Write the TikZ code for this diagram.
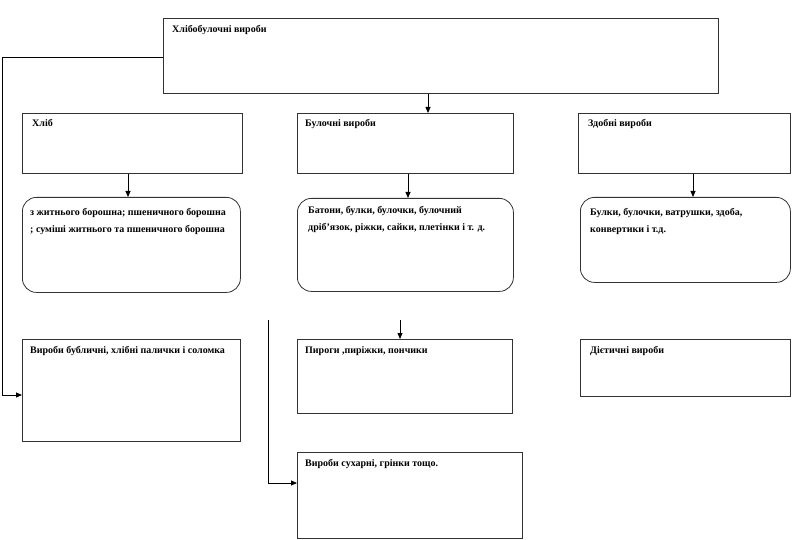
\documentclass[tikz,border=0pt]{standalone}
\usepackage{fontspec}
\setmainfont{Liberation Serif}
\usetikzlibrary{arrows.meta}
\begin{document}
\begin{tikzpicture}[x=1pt,y=-1pt,
  box/.style={draw=black!80,line width=0.8pt,inner sep=0pt,anchor=north west},
  rbox/.style={draw=black!80,line width=0.8pt,rounded corners=14pt,inner sep=0pt,anchor=north west},
  lbl/.style={anchor=north west,inner sep=0pt,font=\bfseries\fontsize{10}{17}\selectfont,align=left},
  conn/.style={draw=black,line width=0.8pt,-{Triangle[length=6pt,width=5pt]}}]
\useasboundingbox (0,0) rectangle (800,540);
% top box
\node[box,minimum width=555pt,minimum height=75pt] (A) at (163,18) {};
\node[lbl] (tA) at (172,25) {Хлібобулочні вироби};
% second row
\node[box,minimum width=220pt,minimum height=60pt] (B1) at (22,113) {};
\node[box,minimum width=216pt,minimum height=60pt] (B2) at (297,113) {};
\node[box,minimum width=212pt,minimum height=60pt] (B3) at (578,113) {};
\node[lbl] (tB1) at (32,119) {Хліб};
\node[lbl] (tB2) at (305,119) {Булочні вироби};
\node[lbl] (tB3) at (588,119) {Здобні вироби};
% rounded boxes
\node[rbox,minimum width=218pt,minimum height=95pt] (C1) at (22,197) {};
\node[rbox,minimum width=216pt,minimum height=93pt] (C2) at (297,198) {};
\node[rbox,minimum width=210pt,minimum height=85pt] (C3) at (580,197) {};
\node[lbl] (tC1) at (30,208) {з житнього борошна; пшеничного борошна\\; суміші житнього та пшеничного борошна};
\node[lbl] (tC2) at (308,206) {Батони, булки, булочки, булочний\\дріб’язок, ріжки, сайки, плетінки і т. д.};
\node[lbl] (tC3) at (590,208) {Булки, булочки, ватрушки, здоба,\\конвертики і т.д.};
% lower boxes
\node[box,minimum width=218pt,minimum height=102pt] (D1) at (22,339) {};
\node[box,minimum width=215pt,minimum height=74pt] (D2) at (297,339) {};
\node[box,minimum width=210pt,minimum height=57pt] (D3) at (580,339) {};
\node[box,minimum width=225pt,minimum height=86pt] (E2) at (297,452) {};
\node[lbl] (tD1) at (30,346) {Вироби бубличні, хлібні палички і соломка};
\node[lbl] (tD2) at (305,346) {Пироги ,пиріжки, пончики};
\node[lbl] (tD3) at (590,346) {Дієтичні вироби};
\node[lbl] (tE2) at (305,459) {Вироби сухарні, грінки тощо.};
% connectors
\draw[conn] (A.west |- 0,57) -- (2,57) -- (2,395) -- (D1.west |- 0,395);
\draw[conn] (A.south -| 428,0) -- (B2.north -| 428,0);
\draw[conn] (B1.south -| 128,0) -- (C1.north -| 128,0);
\draw[conn] (B2.south -| 408,0) -- (C2.north -| 408,0);
\draw[conn] (B3.south -| 693,0) -- (C3.north -| 693,0);
\coordinate (f1) at (400,320);
\draw[conn] (f1) -- (D2.north -| f1);
\coordinate (f2) at (268,320);
\draw[conn] (f2) -- (268,483) -- (E2.west |- 0,483);
\end{tikzpicture}
\end{document}
